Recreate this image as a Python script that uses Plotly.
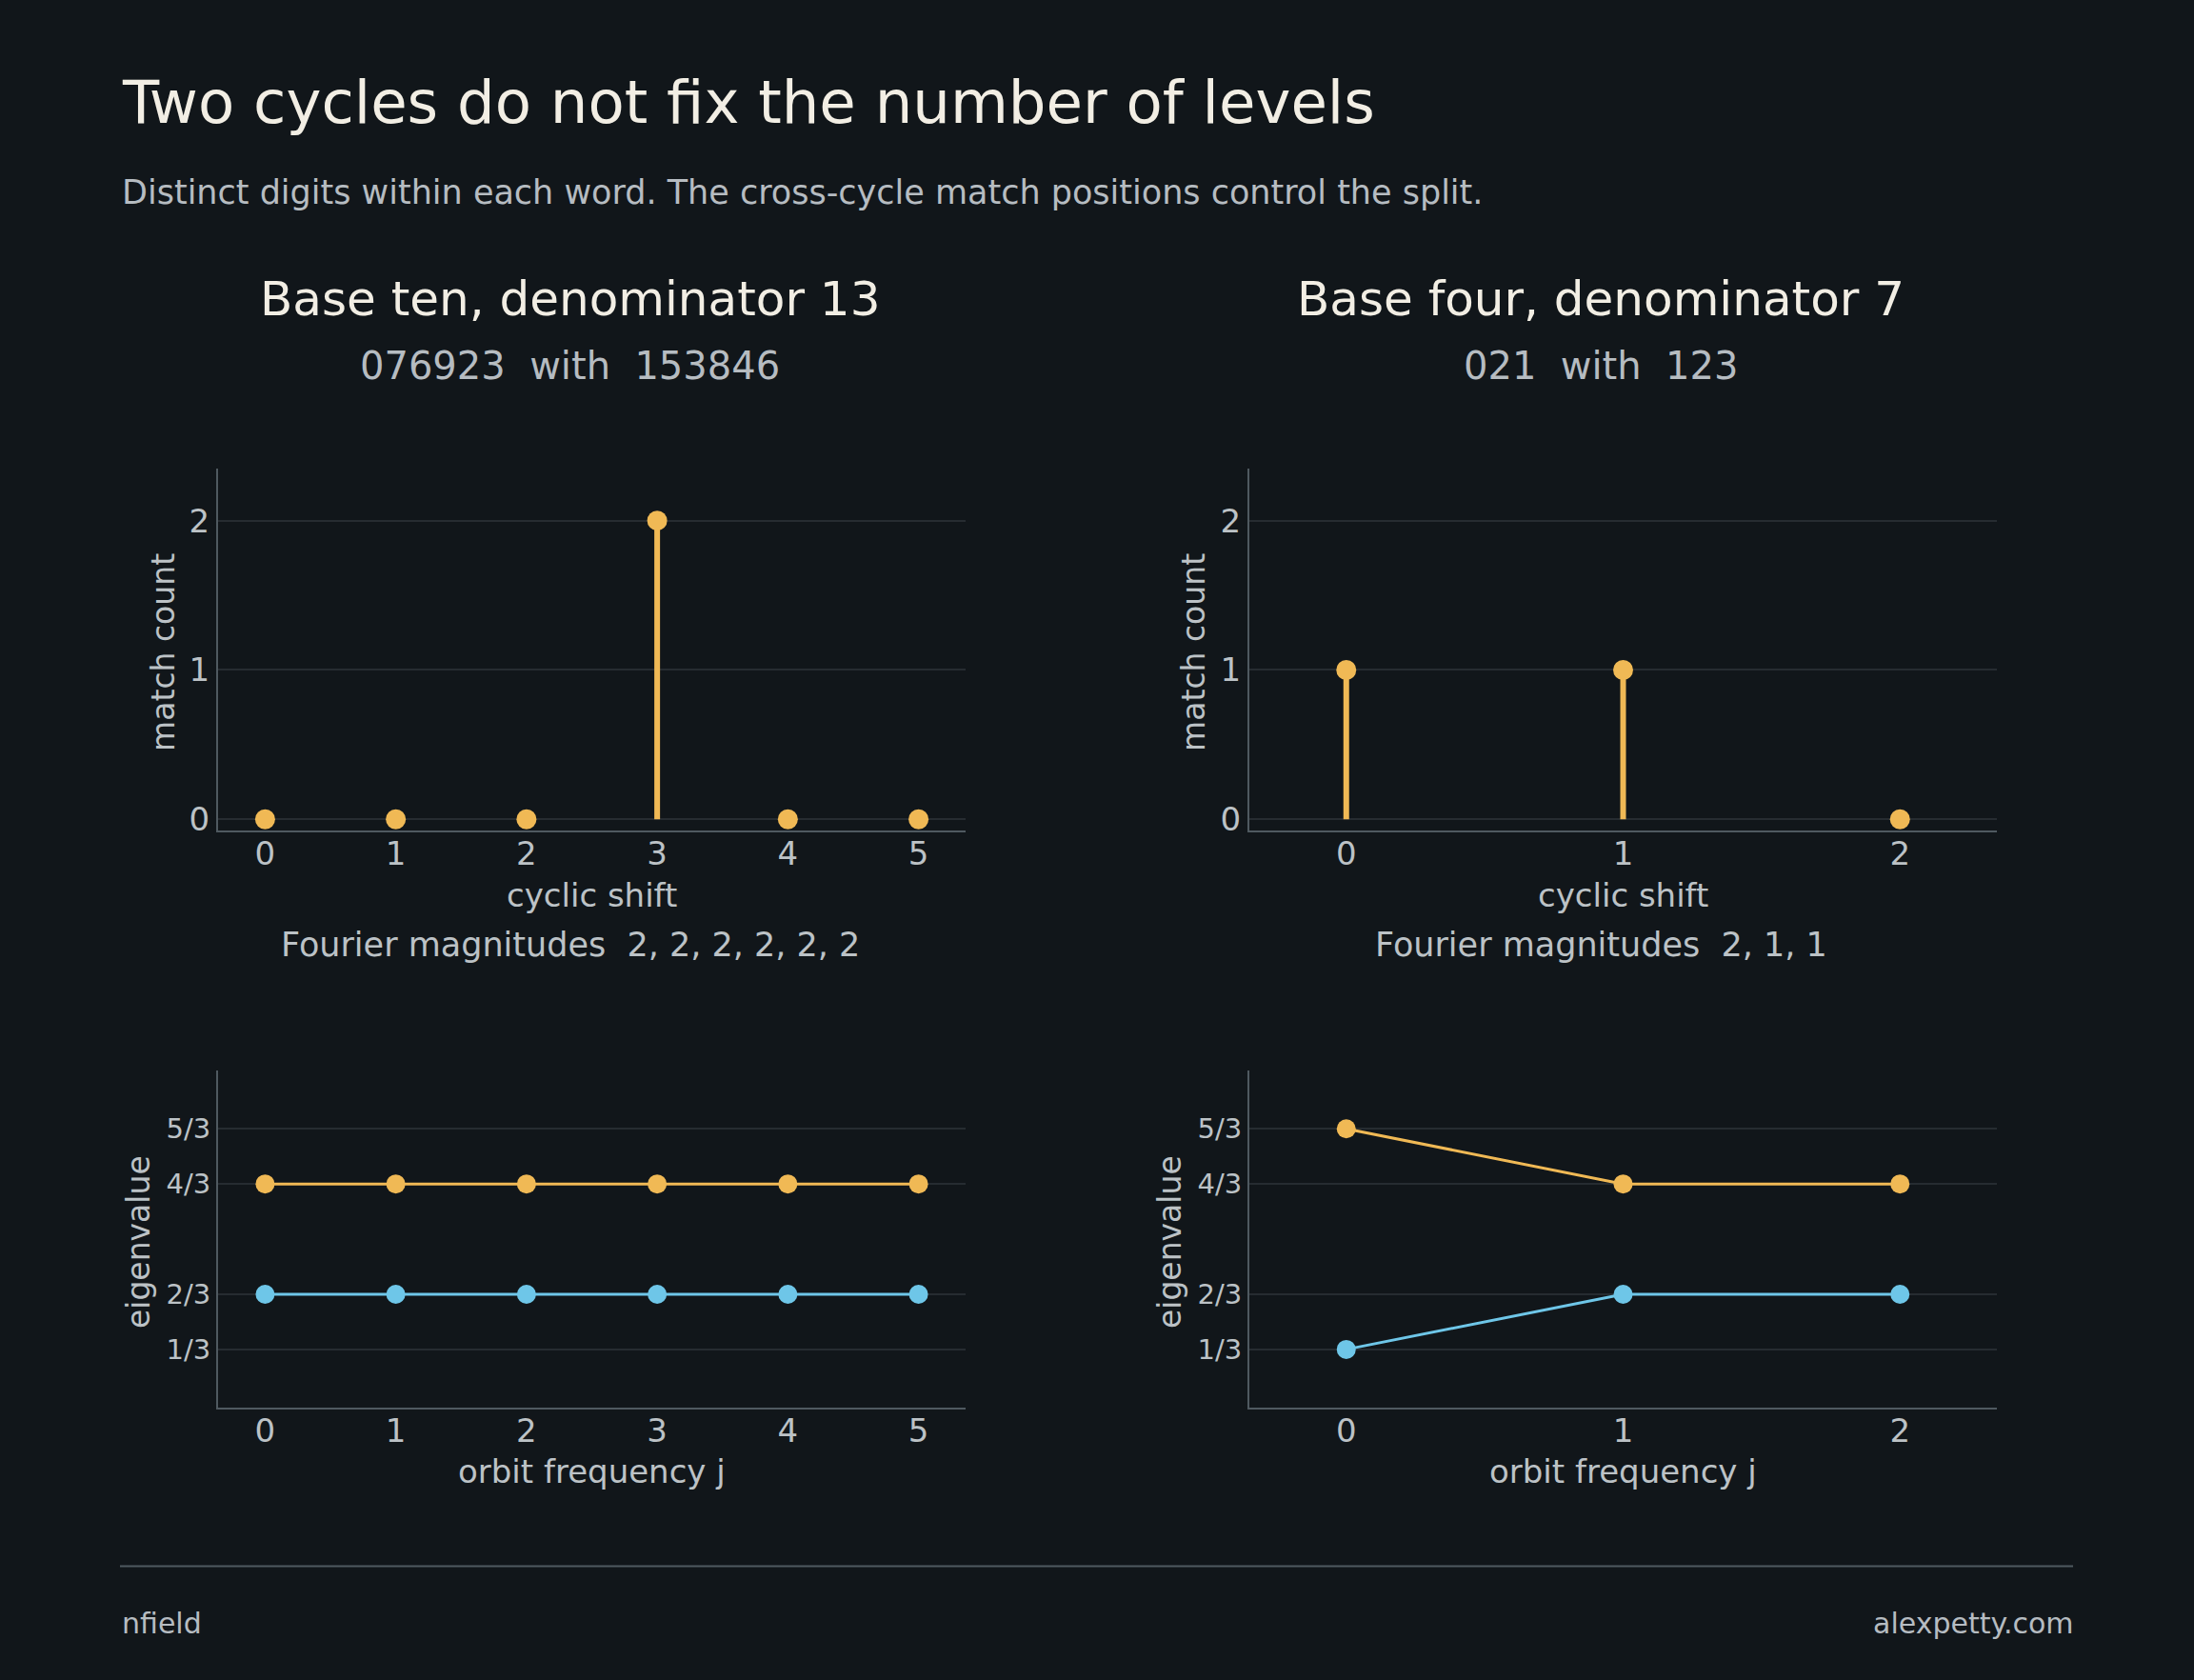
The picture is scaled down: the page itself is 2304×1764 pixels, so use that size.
import plotly.graph_objects as go

W, H = 2304, 1764

BG = "#11161a"
TITLE_COL = "#f2eee4"
SUB_COL = "#b6bcc1"
TICK_COL = "#bcc2c6"
GRID_COL = "#262c31"
AXIS_COL = "#4f5960"
ORANGE = "#f0b955"
BLUE = "#6ec6e8"
FONT = "DejaVu Sans"

# data
ten_shifts = [0, 1, 2, 3, 4, 5]
ten_matches = [0, 0, 0, 2, 0, 0]
ten_freq = [0, 1, 2, 3, 4, 5]
ten_upper = [4/3, 4/3, 4/3, 4/3, 4/3, 4/3]
ten_lower = [2/3, 2/3, 2/3, 2/3, 2/3, 2/3]

four_shifts = [0, 1, 2]
four_matches = [1, 1, 0]
four_freq = [0, 1, 2]
four_upper = [5/3, 4/3, 4/3]
four_lower = [1/3, 2/3, 2/3]

match_ticks = [0, 1, 2]
eig_ticks = [1/3, 2/3, 4/3, 5/3]
eig_labels = ["1/3", "2/3", "4/3", "5/3"]

panel_titles = ["Base ten, denominator 13", "Base four, denominator 7"]
panel_words = ["076923\u00a0\u00a0with\u00a0\u00a0153846", "021\u00a0\u00a0with\u00a0\u00a0123"]
fourier_notes = ["Fourier magnitudes\u00a0\u00a02, 2, 2, 2, 2, 2",
                 "Fourier magnitudes\u00a0\u00a02, 1, 1"]


def px(x):
    return x / W


def py(y):
    return 1 - y / H


def stems(xs, ys):
    sx, sy = [], []
    for x, y in zip(xs, ys):
        if y:
            sx += [x, x, None]
            sy += [0, y, None]
    return sx, sy


fig = go.Figure()

panels = [
    (ten_shifts, ten_matches, ten_freq, ten_upper, ten_lower, "", [-0.36, 5.36]),
    (four_shifts, four_matches, four_freq, four_upper, four_lower, "2", [-0.35, 2.35]),
]

for i, (shifts, matches, freq, upper, lower, sfx, xr) in enumerate(panels):
    top_x, top_y = "x" + sfx, "y" + sfx
    bot = str(3 + i)
    sx, sy = stems(shifts, matches)
    fig.add_trace(go.Scatter(x=sx, y=sy, mode="lines", xaxis=top_x, yaxis=top_y,
                             line=dict(color=ORANGE, width=6), hoverinfo="skip"))
    fig.add_trace(go.Scatter(x=shifts, y=matches, mode="markers", xaxis=top_x, yaxis=top_y,
                             marker=dict(color=ORANGE, size=21, line=dict(width=0))))
    fig.add_trace(go.Scatter(x=freq, y=upper, mode="lines+markers", xaxis="x" + bot, yaxis="y" + bot,
                             line=dict(color=ORANGE, width=3),
                             marker=dict(color=ORANGE, size=20, line=dict(width=0))))
    fig.add_trace(go.Scatter(x=freq, y=lower, mode="lines+markers", xaxis="x" + bot, yaxis="y" + bot,
                             line=dict(color=BLUE, width=3),
                             marker=dict(color=BLUE, size=20, line=dict(width=0))))

x_domains = [[229 / W, 1014 / W], [1312 / W, 2097 / W]]
top_dom = [py(876), py(494)]
bot_dom = [py(1485), py(1129)]

base_axis = dict(showline=True, linecolor=AXIS_COL, linewidth=2, zeroline=False,
                 ticks="", tickfont=dict(family=FONT, size=34, color=TICK_COL),
                 fixedrange=True)

layout_axes = {}
for i, xr in enumerate([[-0.36, 5.36], [-0.35, 2.35]]):
    n_top = "" if i == 0 else "2"
    n_bot = str(3 + i)
    layout_axes["xaxis" + n_top] = dict(base_axis, domain=x_domains[i], range=xr, showgrid=False,
                                        tickvals=panels[i][0], ticklabelstandoff=-7,
                                        anchor="y" + n_top)
    layout_axes["yaxis" + n_top] = dict(base_axis, domain=top_dom, range=[-0.075, 2.35],
                                        tickvals=match_ticks, showgrid=True, gridcolor=GRID_COL,
                                        gridwidth=2, anchor="x" + n_top)
    layout_axes["xaxis" + n_bot] = dict(base_axis, domain=x_domains[i], range=xr, showgrid=False,
                                        tickvals=panels[i][2], ticklabelstandoff=-7,
                                        anchor="y" + n_bot)
    layout_axes["yaxis" + n_bot] = dict(base_axis, domain=bot_dom, range=[-0.02, 2.02],
                                        tickvals=eig_ticks, ticktext=eig_labels,
                                        tickfont=dict(family=FONT, size=29, color=TICK_COL),
                                        showgrid=True, gridcolor=GRID_COL, gridwidth=2,
                                        anchor="x" + n_bot)

ann = []


def text(x, y, s, size, color, xanchor="center", angle=0):
    ann.append(dict(x=px(x), y=py(y), xref="paper", yref="paper", text=s, showarrow=False,
                    xanchor=xanchor, yanchor="middle", textangle=angle,
                    font=dict(family=FONT, size=size, color=color)))


text(126, 108, "Two cycles do not fix the number of levels", 62.5, TITLE_COL, "left")
text(126, 203, "Distinct digits within each word. The cross-cycle match positions control the split.",
     35, SUB_COL, "left")

plot_centers = [621.5, 1704.5]
head_centers = [598.5, 1681]
ylab_x_top = [172, 1254]
ylab_x_bot = [145, 1228]
for i in range(2):
    text(head_centers[i], 315, panel_titles[i], 50, TITLE_COL)
    text(head_centers[i], 386, panel_words[i], 40, SUB_COL)
    text(plot_centers[i], 944, "cyclic shift", 34, TICK_COL)
    text(head_centers[i], 997, fourier_notes[i], 35, TICK_COL)
    text(plot_centers[i], 1552, "orbit frequency j", 34, TICK_COL)
    text(ylab_x_top[i], 688, "match count", 33, TICK_COL, angle=-90)
    text(ylab_x_bot[i], 1310, "eigenvalue", 33, TICK_COL, angle=-90)

text(126, 1712, "nfield", 30, SUB_COL, "left")
text(2180, 1712, "alexpetty.com", 30, SUB_COL, "right")

fig.update_layout(
    width=W, height=H,
    margin=dict(l=0, r=0, t=0, b=0),
    paper_bgcolor=BG, plot_bgcolor=BG,
    showlegend=False,
    annotations=ann,
    shapes=[dict(type="line", xref="paper", yref="paper", x0=px(126), x1=px(2177),
                 y0=py(1652), y1=py(1652), line=dict(color=AXIS_COL, width=2))],
    font=dict(family=FONT),
    **layout_axes,
)

fig.write_html("out.html", config={"displayModeBar": False},
               post_script="document.body.style.margin='0';document.body.style.background='" + BG + "';")
